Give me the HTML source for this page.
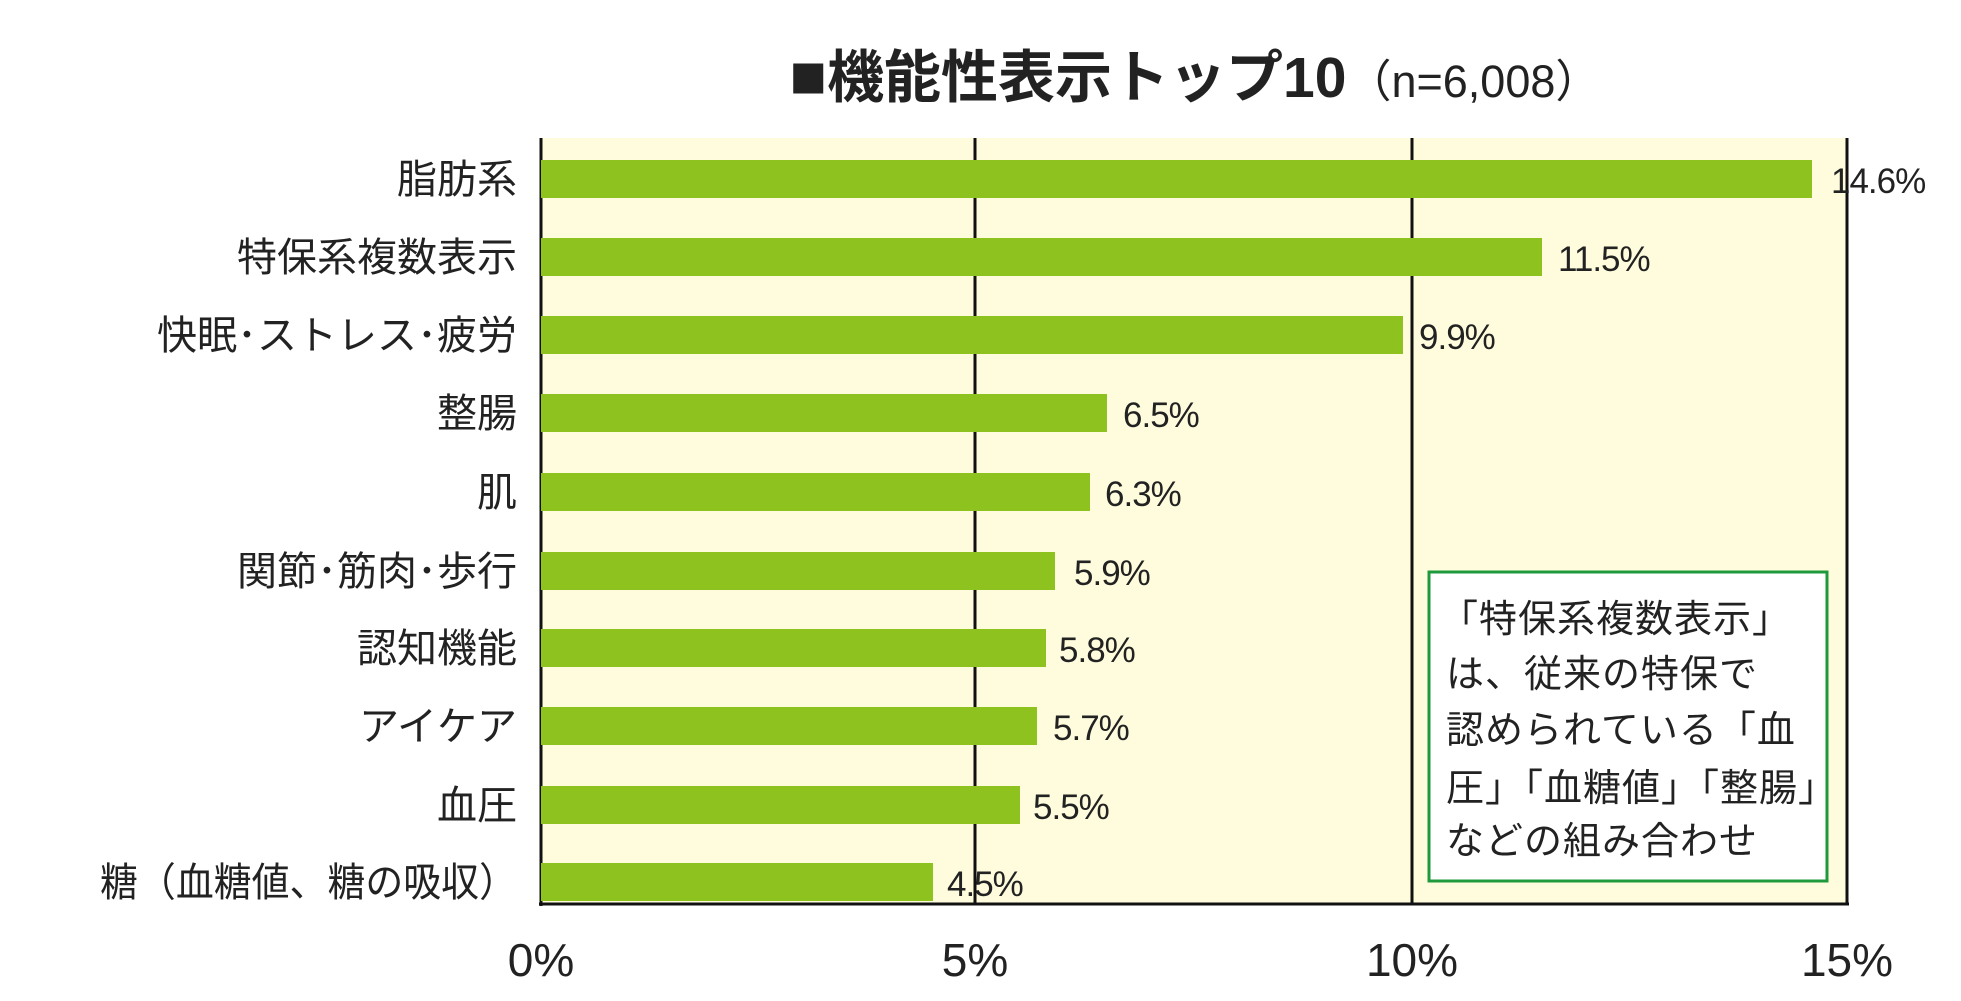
<!DOCTYPE html>
<html><head><meta charset="utf-8"><style>
html,body{margin:0;padding:0;background:#fff;}
svg text{font-family:"Liberation Sans","Noto Sans CJK JP",sans-serif;}
</style></head><body>
<svg width="1961" height="996" viewBox="0 0 1961 996" xmlns="http://www.w3.org/2000/svg">
<rect x="541" y="138" width="1306" height="766" fill="#fefcdc"/>
<line x1="975" y1="138" x2="975" y2="904" stroke="#111" stroke-width="3"/>
<line x1="1412" y1="138" x2="1412" y2="904" stroke="#111" stroke-width="3"/>
<line x1="1847" y1="138" x2="1847" y2="904" stroke="#111" stroke-width="3"/>
<line x1="541" y1="138" x2="541" y2="906" stroke="#111" stroke-width="3"/>
<line x1="539" y1="904" x2="1849" y2="904" stroke="#111" stroke-width="3"/>
<text x="1195" y="97" text-anchor="middle" font-size="57" font-weight="bold" fill="#222"><tspan font-size="62">■</tspan>機能性表示トップ10<tspan font-size="45" font-weight="normal">（n=6,008）</tspan></text>
<g fill="#8dc21f">
<rect x="541" y="160" width="1271" height="38"/>
<rect x="541" y="238" width="1001" height="38"/>
<rect x="541" y="316" width="862" height="38"/>
<rect x="541" y="394" width="566" height="38"/>
<rect x="541" y="473" width="549" height="38"/>
<rect x="541" y="552" width="514" height="38"/>
<rect x="541" y="629" width="505" height="38"/>
<rect x="541" y="707" width="496" height="38"/>
<rect x="541" y="786" width="479" height="38"/>
<rect x="541" y="863" width="392" height="38"/>
</g>
<g font-size="40" fill="#222" text-anchor="end">
<text x="517" y="193">脂肪系</text>
<text x="517" y="271">特保系複数表示</text>
<text x="517" y="349">快眠･ストレス･疲労</text>
<text x="517" y="427">整腸</text>
<text x="517" y="506">肌</text>
<text x="517" y="585">関節･筋肉･歩行</text>
<text x="517" y="662">認知機能</text>
<text x="517" y="740">アイケア</text>
<text x="517" y="819">血圧</text>
<text x="100" y="896" text-anchor="start" textLength="417" lengthAdjust="spacingAndGlyphs">糖（血糖値、糖の吸収）</text>
</g>
<g font-size="35" fill="#222" letter-spacing="-1">
<text x="1831" y="193">14.6%</text>
<text x="1558" y="271">11.5%</text>
<text x="1419" y="349">9.9%</text>
<text x="1123" y="427">6.5%</text>
<text x="1105" y="506">6.3%</text>
<text x="1074" y="585">5.9%</text>
<text x="1059" y="662">5.8%</text>
<text x="1053" y="740">5.7%</text>
<text x="1033" y="819">5.5%</text>
<text x="947" y="896">4.5%</text>
</g>
<g font-size="46" fill="#222" text-anchor="middle">
<text x="541" y="976">0%</text>
<text x="975" y="976">5%</text>
<text x="1412" y="976">10%</text>
<text x="1847" y="976">15%</text>
</g>
<rect x="1429" y="572" width="398" height="309" fill="#fff" stroke="#1e9a3c" stroke-width="3"/>
<g font-size="38" fill="#222" letter-spacing="1">
<text x="1440" y="632">「特保系複数表示」</text>
<text x="1446" y="687">は、従来の特保で</text>
<text x="1446" y="743">認められている「血</text>
<text x="1446" y="801">圧」「血糖値」「整腸」</text>
<text x="1446" y="854">などの組み合わせ</text>
</g>
</svg>
</body></html>
